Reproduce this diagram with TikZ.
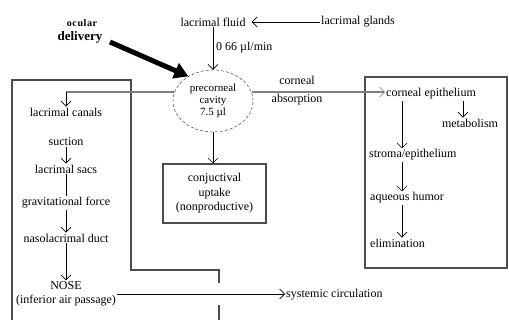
\documentclass[tikz,border=0pt]{standalone}
\usepackage{fontspec}
\setmainfont{Liberation Serif}
\newfontfamily\spacedfont[LetterSpace=6]{Liberation Serif}
\usetikzlibrary{arrows.meta,shapes.geometric}
\begin{document}
\begin{tikzpicture}[x=1pt,y=-1pt,
 lbl/.style={font=\fontsize{12}{14.5}\selectfont, inner sep=1pt, align=center},
 arr/.style={line width=0.6pt, -{Straight Barb[length=5pt,width=10pt,line width=0.6pt]}},
 ln/.style={line width=0.6pt},
 boxline/.style={draw=black!70, line width=1.1pt},
 grayline/.style={draw=black!50, line width=1.8pt},
]
\useasboundingbox (0,0) rectangle (509,320);
% outlines
\draw[boxline] (12,322) -- (12,80) -- (131,80) -- (131,270) -- (219,270) -- (219,283);
\draw[boxline] (219,305) -- (219,322);
\draw[boxline] (365,77) rectangle (507,268);
% top
\node[font=\spacedfont\fontsize{10}{12}\selectfont\bfseries] (ocular) at (82,23) {ocular};
\node[font=\fontsize{13}{15}\selectfont\bfseries] (delivery) at (80,37) {delivery};
\node[lbl] (fluid) at (213,22) {lacrimal fluid};
\node[lbl] (glands) at (358,22) {lacrimal glands};
\node[lbl,anchor=west] (rate) at (215,48) {0 66 µl/min};
\node[ellipse, draw=black!85, densely dashed, minimum width=80pt, minimum height=62pt, inner sep=0pt, align=center, font=\fontsize{11}{12}\selectfont] (cavity) at (213,101) {precorneal\\cavity\\7.5 µl};
\node[lbl] (corneal) at (297,80) {corneal};
\node[lbl] (absorption) at (297,100) {absorption};
% left column
\node[lbl] (canals) at (66,112) {lacrimal canals};
\node[lbl] (suction) at (66,142) {suction};
\node[lbl] (sacs) at (66,169) {lacrimal sacs};
\node[lbl] (grav) at (66,203) {gravitational force};
\node[lbl] (duct) at (66,238) {nasolacrimal duct};
\node[lbl] (nose) at (66,294) {NOSE\\(inferior air passage)};
% middle
\node[lbl, draw=black!70, line width=1.1pt, minimum width=103pt, minimum height=59pt] (conj) at (214.5,193.5) {conjuctival\\uptake\\(nonproductive)};
% right column
\node[lbl, anchor=west] (epith) at (385,94) {corneal epithelium};
\node[lbl] (metab) at (470,123) {metabolism};
\node[lbl, anchor=west] (stroma) at (368,155) {stroma/epithelium};
\node[lbl, anchor=west] (aqueous) at (369,198) {aqueous humor};
\node[lbl, anchor=west] (elim) at (369,243) {elimination};
\node[lbl, anchor=west] (systemic) at (285,295) {systemic circulation};
% connectors
\draw[arr, shorten >=5pt] (glands) -- (fluid);
\draw[arr] (fluid) -- (cavity);
\coordinate (odstart) at (110,42);
\draw[line width=5pt, -{Triangle[length=14pt,width=16pt]}] (odstart) -- (cavity.135);
\coordinate (bend) at (66,92);
\draw[grayline] (cavity.167) -- (bend);
\draw[arr] (bend) -- (canals);
\draw[grayline, -{Straight Barb[length=5pt,width=10pt,line width=0.6pt]}] (cavity.13) -- (cavity.13 -| epith.west);
\draw[arr] (cavity.south) -- (cavity.south |- conj.north);
\draw[arr] (suction) -- (sacs);
\draw[ln] (sacs) -- (grav);
\draw[arr] (grav) -- (duct);
\draw[arr] (duct) -- (nose);
\draw[arr] (nose.east) -- (nose.east -| systemic.west);
\coordinate (colx) at (402,0);
\coordinate (mx) at (463,0);
\draw[arr] (epith.south -| colx) -- (stroma.north -| colx);
\draw[arr] (stroma.south -| colx) -- (aqueous.north -| colx);
\draw[arr] (aqueous.south -| colx) -- (elim.north -| colx);
\draw[arr] (epith.south -| mx) -- (metab.north -| mx);
\end{tikzpicture}
\end{document}
